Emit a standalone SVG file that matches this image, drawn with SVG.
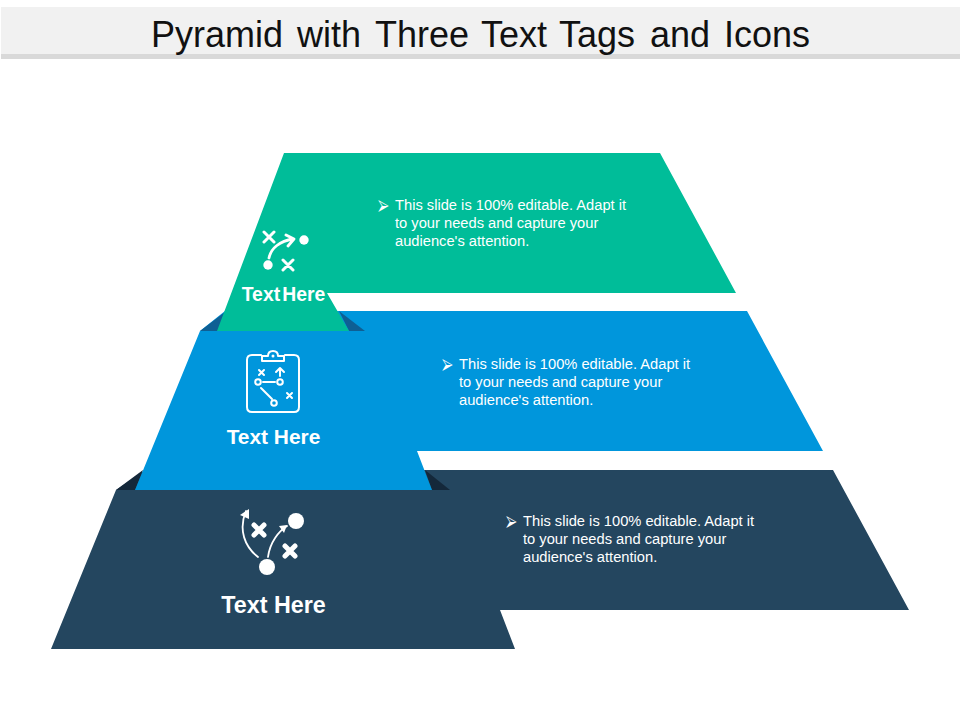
<svg xmlns="http://www.w3.org/2000/svg" width="960" height="720" viewBox="0 0 960 720">
<defs><style>
text{font-family:"Liberation Sans",Arial,sans-serif}
.b{font-size:14.700px;fill:#fff}
.l{font-weight:bold;fill:#fff;text-anchor:middle}
.s{fill:none;stroke:#fff;stroke-linecap:round;stroke-linejoin:round}
.w{fill:#fff}
</style></defs>
<rect width="960" height="720" fill="#fff"/>
<g id="header">
<rect x="1" y="7" width="959" height="47" fill="#f1f1f1"/>
<rect x="1" y="54" width="959" height="5" fill="#d9d9d9"/>
<text y="47" font-size="36" fill="#111"><tspan x="151">Pyramid</tspan><tspan x="297">with</tspan><tspan x="375">Three</tspan><tspan x="481">Text</tspan><tspan x="559">Tags</tspan><tspan x="650">and</tspan><tspan x="724">Icons</tspan></text>
</g>
<g id="tier-bottom">
<polygon points="116,490 145,470 833,470 909,610 500,610 515,649 51,649" fill="#24465f"/>
<polygon points="116,490 135,490 143,470" fill="#14283a"/>
<polygon points="432,490 450,490 425,470" fill="#14283a"/>
<text class="b" x="506" y="526">⮚</text>
<text class="b"><tspan x="523" y="526">This slide is 100% editable. Adapt it</tspan><tspan x="523" y="544">to your needs and capture your</tspan><tspan x="523" y="562">audience's attention.</tspan></text>
<path class="s" stroke-width="1.800" d="M258 557C245 547 238 530 246 511M268 557C270 542 279 531 287 526"/>
<polygon class="w" points="249,509 240,515 249,519"/>
<polygon class="w" points="287,525 279,526 284,533"/>
<circle class="w" cx="296" cy="521" r="8"/>
<circle class="w" cx="267" cy="567" r="8"/>
<path class="s" stroke-width="5" stroke-linecap="butt" d="M254 525L264 535M264 525L254 535M285 546L295 556M295 546L285 556"/>
<text class="l" x="273.500" y="613" font-size="23.300">Text Here</text>
</g>
<g id="tier-middle">
<polygon points="200,331 225,311 747,311 823,451 417,451 432,490 135,490" fill="#0096dc"/>
<polygon points="200,331 218,331 225,312" fill="#0e5f94"/>
<polygon points="349,331 365,331 339,311" fill="#0e5f94"/>
<text class="b" x="442" y="369">⮚</text>
<text class="b"><tspan x="459" y="369">This slide is 100% editable. Adapt it</tspan><tspan x="459" y="387">to your needs and capture your</tspan><tspan x="459" y="405">audience's attention.</tspan></text>
<path class="s" stroke-width="2" d="M261 355H252Q247 355 247 360V407Q247 412 252 412H294Q299 412 299 407V360Q299 355 294 355H285M262 361V356H268Q268 351 273 351Q278 351 278 356H284V361Z"/>
<circle class="w" cx="273" cy="356" r="1.500"/>
<circle class="s" stroke-width="2" cx="258" cy="382" r="2.800"/>
<circle class="s" stroke-width="2" cx="280" cy="382" r="2.800"/>
<circle class="s" stroke-width="2" cx="274" cy="403" r="2.800"/>
<path class="s" stroke-width="2" d="M263 382H275M261 388L272 399M280 376V369M276 372L280 368L284 372M259 370L264 375M264 370L259 375M287 393L292 398M292 393L287 398"/>
<text class="l" x="273.500" y="444" font-size="20.900">Text Here</text>
</g>
<g id="tier-top">
<polygon points="284,153 660,153 736,293 327,293 349,331 217,331" fill="#00bd99"/>
<text class="b" x="378" y="210">⮚</text>
<text class="b"><tspan x="395" y="210">This slide is 100% editable. Adapt it</tspan><tspan x="395" y="228">to your needs and capture your</tspan><tspan x="395" y="246">audience's attention.</tspan></text>
<path class="s" stroke-width="2.800" d="M269 258C271 248 280 241 293 239M286 235L294 239L288 246"/>
<path class="s" stroke-width="3" stroke-linecap="butt" d="M264 232L274 242M274 232L264 242M283 260L293 270M293 260L283 270"/>
<circle class="w" cx="304" cy="240" r="4.700"/>
<circle class="w" cx="268" cy="265" r="4.700"/>
<text class="l" x="283.500" y="301" font-size="19.400">Text<tspan dx="2">Here</tspan></text>
</g>
</svg>
